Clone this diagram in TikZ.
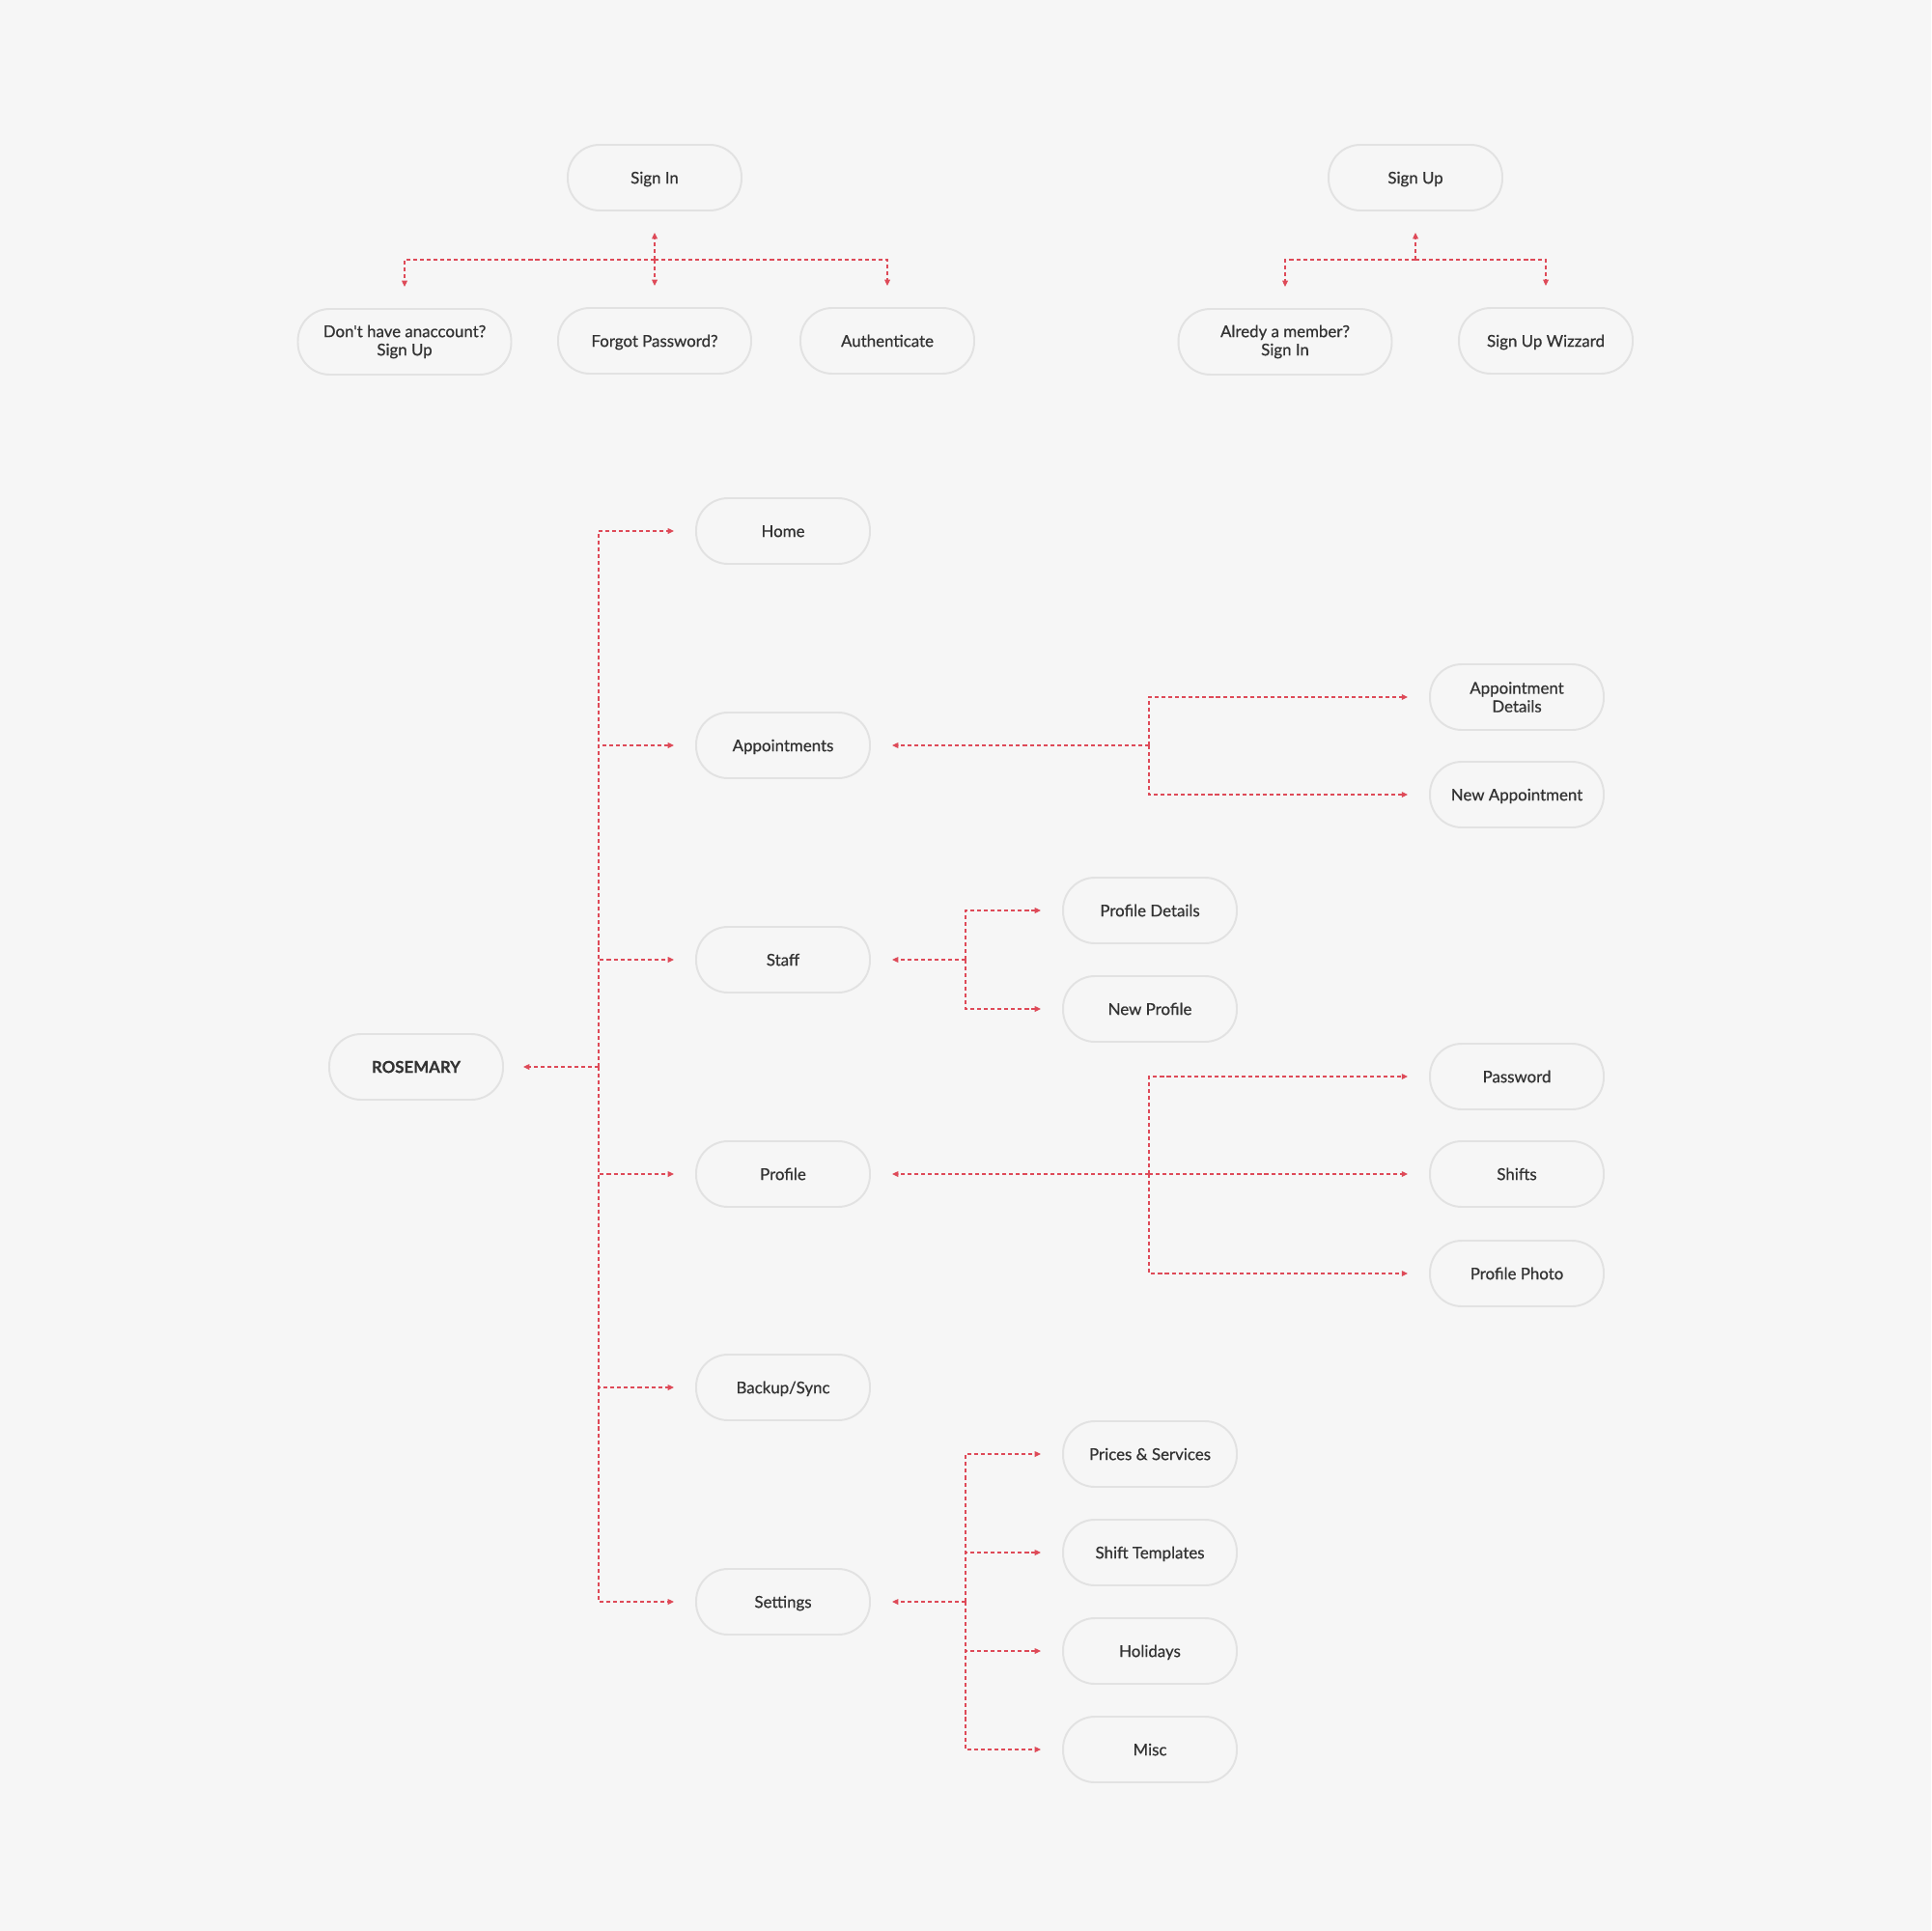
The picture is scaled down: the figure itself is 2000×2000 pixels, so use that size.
\documentclass[tikz,border=0pt]{standalone}
\usepackage{fontspec}
\setmainfont{Lato}[FakeBold=0.5]
\newfontfamily\pillfont{Lato}[FakeBold=0.6]
\usepackage{xcolor}
\usepackage{tikz}
\usetikzlibrary{arrows.meta, positioning}
\definecolor{bgGray}{RGB}{246,246,246}
\definecolor{pillLine}{RGB}{226,226,226}
\definecolor{linkRed}{RGB}{222,74,88}
\definecolor{txtGray}{RGB}{51,51,51}

\tikzset{
  pill/.style={draw=pillLine, line width=1.1pt, fill=bgGray, rounded corners=0.66cm,
               minimum width=3.6cm, minimum height=1.36cm, align=center, inner sep=2pt,
               text height=7pt, text depth=0pt,
               text=txtGray, font=\pillfont\fontsize{9.6}{10.8}\selectfont},
  twoline/.style={text height={}, text depth={}},
  link/.style={draw=linkRed, line width=0.7pt, dash pattern=on 2.3pt off 1.7pt,
               -{Triangle[length=3.6pt,width=3.2pt]}, shorten >=0.44cm},
}

\begin{document}
\begin{tikzpicture}[x=0.02cm, y=-0.02cm]
    \useasboundingbox[fill=bgGray] (0,0) rectangle (2000,2000);

    % sign in / sign up
    \node[pill] (signin) at (678,184) {Sign In};
    \node[pill, twoline, minimum width=4.42cm] (noacct) at (419,354) {Don't have anaccount?\\Sign Up};
    \node[pill, minimum width=4cm] (forgot) at (678,353) {Forgot Password?};
    \node[pill] (auth) at (919,353) {Authenticate};
    \node[pill] (signup) at (1466,184) {Sign Up};
    \node[pill, twoline, minimum width=4.42cm] (member) at (1331,354) {Alredy a member?\\Sign In};
    \node[pill] (wizard) at (1601,353) {Sign Up Wizzard};

    \coordinate (sijoint) at (678,269);
    \coordinate (sujoint) at (1466,269);
    \draw[link] (sijoint) -- (signin.south);
    \draw[link] (sijoint) -| (noacct.north);
    \draw[link] (sijoint) -- (forgot.north);
    \draw[link] (sijoint) -| (auth.north);
    \draw[link] (sujoint) -- (signup.south);
    \draw[link] (sujoint) -| (member.north);
    \draw[link] (sujoint) -| (wizard.north);

    % main menu
    \node[pill, font=\fontsize{9.6}{10.8}\selectfont\bfseries] (rosemary) at (431,1105) {ROSEMARY};
    \node[pill] (home) at (811,550) {Home};
    \node[pill] (appts) at (811,772) {Appointments};
    \node[pill] (staff) at (811,994) {Staff};
    \node[pill] (profile) at (811,1216) {Profile};
    \node[pill] (backup) at (811,1437) {Backup/Sync};
    \node[pill] (settings) at (811,1659) {Settings};

    \coordinate (trunk) at (620,1105);
    \draw[link, shorten >=0.4cm] (trunk) -- (rosemary.east);
    \foreach \item in {home, appts, staff, profile, backup, settings}
        \draw[link] (trunk) |- (\item.west);

    % appointments
    \node[pill, twoline] (apdetail) at (1571,722) {Appointment\\Details};
    \node[pill] (apnew) at (1571,823) {New Appointment};
    \coordinate (apjoint) at (1190,772);
    \draw[link] (apjoint) -- (appts.east);
    \draw[link] (apjoint) |- (apdetail.west);
    \draw[link] (apjoint) |- (apnew.west);

    % staff
    \node[pill] (prdetail) at (1191,943) {Profile Details};
    \node[pill] (prnew) at (1191,1045) {New Profile};
    \coordinate (stjoint) at (1000,994);
    \draw[link] (stjoint) -- (staff.east);
    \draw[link] (stjoint) |- (prdetail.west);
    \draw[link] (stjoint) |- (prnew.west);

    % profile
    \node[pill] (password) at (1571,1115) {Password};
    \node[pill] (shifts) at (1571,1216) {Shifts};
    \node[pill] (photo) at (1571,1319) {Profile Photo};
    \coordinate (prjoint) at (1190,1216);
    \draw[link] (prjoint) -- (profile.east);
    \draw[link] (prjoint) |- (password.west);
    \draw[link] (prjoint) -- (shifts.west);
    \draw[link] (prjoint) |- (photo.west);

    % settings
    \node[pill] (prices) at (1191,1506) {Prices \& Services};
    \node[pill] (templates) at (1191,1608) {Shift Templates};
    \node[pill] (holidays) at (1191,1710) {Holidays};
    \node[pill] (misc) at (1191,1812) {Misc};
    \coordinate (sejoint) at (1000,1659);
    \draw[link] (sejoint) -- (settings.east);
    \foreach \item in {prices, templates, holidays, misc}
        \draw[link] (sejoint) |- (\item.west);
\end{tikzpicture}
\end{document}
